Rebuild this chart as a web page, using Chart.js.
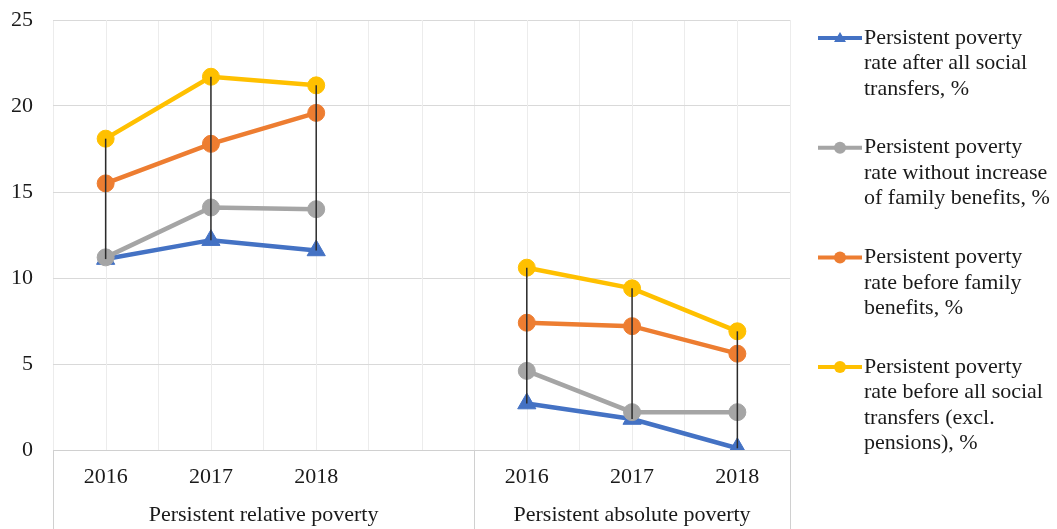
<!DOCTYPE html>
<html>
<head>
<meta charset="utf-8">
<title>Persistent poverty rates</title>
<script src="https://cdn.jsdelivr.net/npm/chart.js@4/dist/chart.umd.min.js"></script>
<style>
  html, body { margin: 0; padding: 0; background: #ffffff; }
  #wrap { position: relative; width: 1057px; height: 529px; }
</style>
</head>
<body>
<div id="wrap"><canvas id="chart"></canvas></div>
<script>
// Category axis: two groups of years, separated by one empty slot
const categories = ['2016', '2017', '2018', '', '2016', '2017', '2018'];
const groupNames = ['Persistent relative poverty', 'Persistent absolute poverty'];
const groupFirst = [0, 4];   // first category index of each group
const groupLast = [3, 6];    // last category index of each group

// Series values, %
const afterAllTransfers     = [11.1, 12.2, 11.6, null, 2.7, 1.8, 0.1];
const withoutFamilyIncrease = [11.2, 14.1, 14.0, null, 4.6, 2.2, 2.2];
const beforeFamilyBenefits  = [15.5, 17.8, 19.6, null, 7.4, 7.2, 5.6];
const beforeAllTransfers    = [18.1, 21.7, 21.2, null, 10.6, 9.4, 6.9];

const seriesNames = [
  'Persistent poverty rate after all social transfers, %',
  'Persistent poverty rate without increase of family benefits, %',
  'Persistent poverty rate before family benefits, %',
  'Persistent poverty rate before all social transfers (excl. pensions), %'
];
const seriesValues = [afterAllTransfers, withoutFamilyIncrease, beforeFamilyBenefits, beforeAllTransfers];
const seriesColors = ['#4472C4', '#A5A5A5', '#ED7D31', '#FFC000'];
const seriesMarkers = ['triangle', 'circle', 'circle', 'circle'];

const yTicks = [0, 5, 10, 15, 20, 25];

const FONT = '"Liberation Serif", "Times New Roman", serif';
const TEXT = '#1a1a1a';

// Light vertical lines through every category centre
const centreGrid = {
  id: 'centreGrid',
  beforeDatasetsDraw(chart) {
    const { ctx, chartArea, scales: { x } } = chart;
    ctx.save();
    ctx.strokeStyle = '#ececec';
    ctx.lineWidth = 1;
    categories.forEach((c, i) => {
      const px = Math.round(x.getPixelForTick(i)) + 0.5;
      ctx.beginPath();
      ctx.moveTo(px, chartArea.top);
      ctx.lineTo(px, chartArea.bottom);
      ctx.stroke();
    });
    ctx.restore();
  }
};

// High-low lines joining the highest and lowest value of each category
const highLowLines = {
  id: 'highLowLines',
  afterDatasetsDraw(chart) {
    const { ctx, scales: { x, y } } = chart;
    ctx.save();
    ctx.strokeStyle = '#2b2b2b';
    ctx.lineWidth = 1.5;
    categories.forEach((c, i) => {
      const vals = seriesValues.map(s => s[i]).filter(v => v !== null && v !== undefined);
      if (!vals.length) return;
      const px = x.getPixelForTick(i);
      ctx.beginPath();
      ctx.moveTo(px, y.getPixelForValue(Math.max(...vals)));
      ctx.lineTo(px, y.getPixelForValue(Math.min(...vals)));
      ctx.stroke();
    });
    ctx.restore();
  }
};

// Second level of the category axis: group separators and group names
const groupAxis = {
  id: 'groupAxis',
  afterDraw(chart) {
    const { ctx, chartArea, scales: { x } } = chart;
    const half = (x.getPixelForTick(1) - x.getPixelForTick(0)) / 2;
    ctx.save();
    ctx.strokeStyle = '#d0d0d0';
    ctx.lineWidth = 1;
    ctx.fillStyle = TEXT;
    ctx.font = '22px ' + FONT;
    ctx.textAlign = 'center';
    ctx.textBaseline = 'middle';
    groupNames.forEach((name, g) => {
      const left = x.getPixelForTick(groupFirst[g]) - half;
      const right = x.getPixelForTick(groupLast[g]) + half;
      [left, right].forEach(px => {
        const sx = Math.round(px) + 0.5;
        ctx.beginPath();
        ctx.moveTo(sx, chartArea.bottom);
        ctx.lineTo(sx, chart.height);
        ctx.stroke();
      });
      ctx.fillText(name, (left + right) / 2, chartArea.bottom + 65);
    });
    ctx.restore();
  }
};

// Legend on the right with wrapped series names
const sideLegend = {
  id: 'sideLegend',
  afterDraw(chart) {
    const { ctx, chartArea } = chart;
    const x0 = chartArea.right + 28;
    const x1 = chartArea.right + 72;
    const tx = chartArea.right + 74;
    const maxW = 194;
    const lineH = 25.5;
    ctx.save();
    ctx.font = '22px ' + FONT;
    ctx.textBaseline = 'middle';
    ctx.textAlign = 'left';
    seriesNames.forEach((name, k) => {
      const top = 38 + k * 109.7;
      // wrap words into lines
      const words = name.split(' ');
      const lines = [];
      let cur = '';
      words.forEach(w => {
        const test = cur ? cur + ' ' + w : w;
        if (cur && ctx.measureText(test).width > maxW) { lines.push(cur); cur = w; }
        else cur = test;
      });
      if (cur) lines.push(cur);
      // line sample
      ctx.strokeStyle = seriesColors[k];
      ctx.lineWidth = 4;
      ctx.beginPath();
      ctx.moveTo(x0, top);
      ctx.lineTo(x1, top);
      ctx.stroke();
      // marker
      ctx.fillStyle = seriesColors[k];
      const cx = (x0 + x1) / 2;
      ctx.beginPath();
      if (seriesMarkers[k] === 'triangle') {
        ctx.moveTo(cx, top - 6);
        ctx.lineTo(cx + 6, top + 4);
        ctx.lineTo(cx - 6, top + 4);
        ctx.closePath();
      } else {
        ctx.arc(cx, top, 6, 0, Math.PI * 2);
      }
      ctx.fill();
      // text
      ctx.fillStyle = TEXT;
      lines.forEach((ln, j) => ctx.fillText(ln, tx, top + j * lineH));
    });
    ctx.restore();
  }
};

const datasets = seriesValues.map((vals, k) => ({
  label: seriesNames[k],
  data: vals,
  borderColor: seriesColors[k],
  backgroundColor: seriesColors[k],
  borderWidth: 4.5,
  pointStyle: seriesMarkers[k],
  pointRadius: seriesMarkers[k] === 'triangle' ? 10.5 : 8.5,
  pointBorderWidth: 1,
  pointBorderColor: seriesColors[k],
  pointBackgroundColor: seriesColors[k],
  spanGaps: false,
  tension: 0,
  order: seriesValues.length - k
}));

new Chart(document.getElementById('chart'), {
  type: 'line',
  data: { labels: categories, datasets },
  options: {
    responsive: true,
    maintainAspectRatio: false,
    animation: false,
    events: [],
    layout: { padding: { top: 20, right: 267, left: 0, bottom: 0 } },
    plugins: {
      legend: { display: false },
      tooltip: { enabled: false },
      title: { display: false }
    },
    scales: {
      x: {
        type: 'category',
        offset: true,
        grid: { display: true, offset: true, color: '#ececec', drawTicks: false },
        border: { display: true, color: '#d0d0d0' },
        ticks: {
          autoSkip: false, maxRotation: 0, padding: 14,
          color: TEXT, font: { family: FONT, size: 22 }
        },
        afterFit(scale) { scale.height = 79; scale.paddingLeft = 0; scale.paddingRight = 0; }
      },
      y: {
        min: 0,
        max: 25,
        grid: { color: '#d9d9d9', drawTicks: false },
        border: { display: false },
        afterBuildTicks(scale) { scale.ticks = yTicks.map(v => ({ value: v })); },
        ticks: { padding: 20, color: TEXT, font: { family: FONT, size: 22 } },
        afterFit(scale) { scale.width = 53; scale.paddingTop = 0; scale.paddingBottom = 0; }
      }
    }
  },
  plugins: [centreGrid, highLowLines, groupAxis, sideLegend]
});
</script>
</body>
</html>
